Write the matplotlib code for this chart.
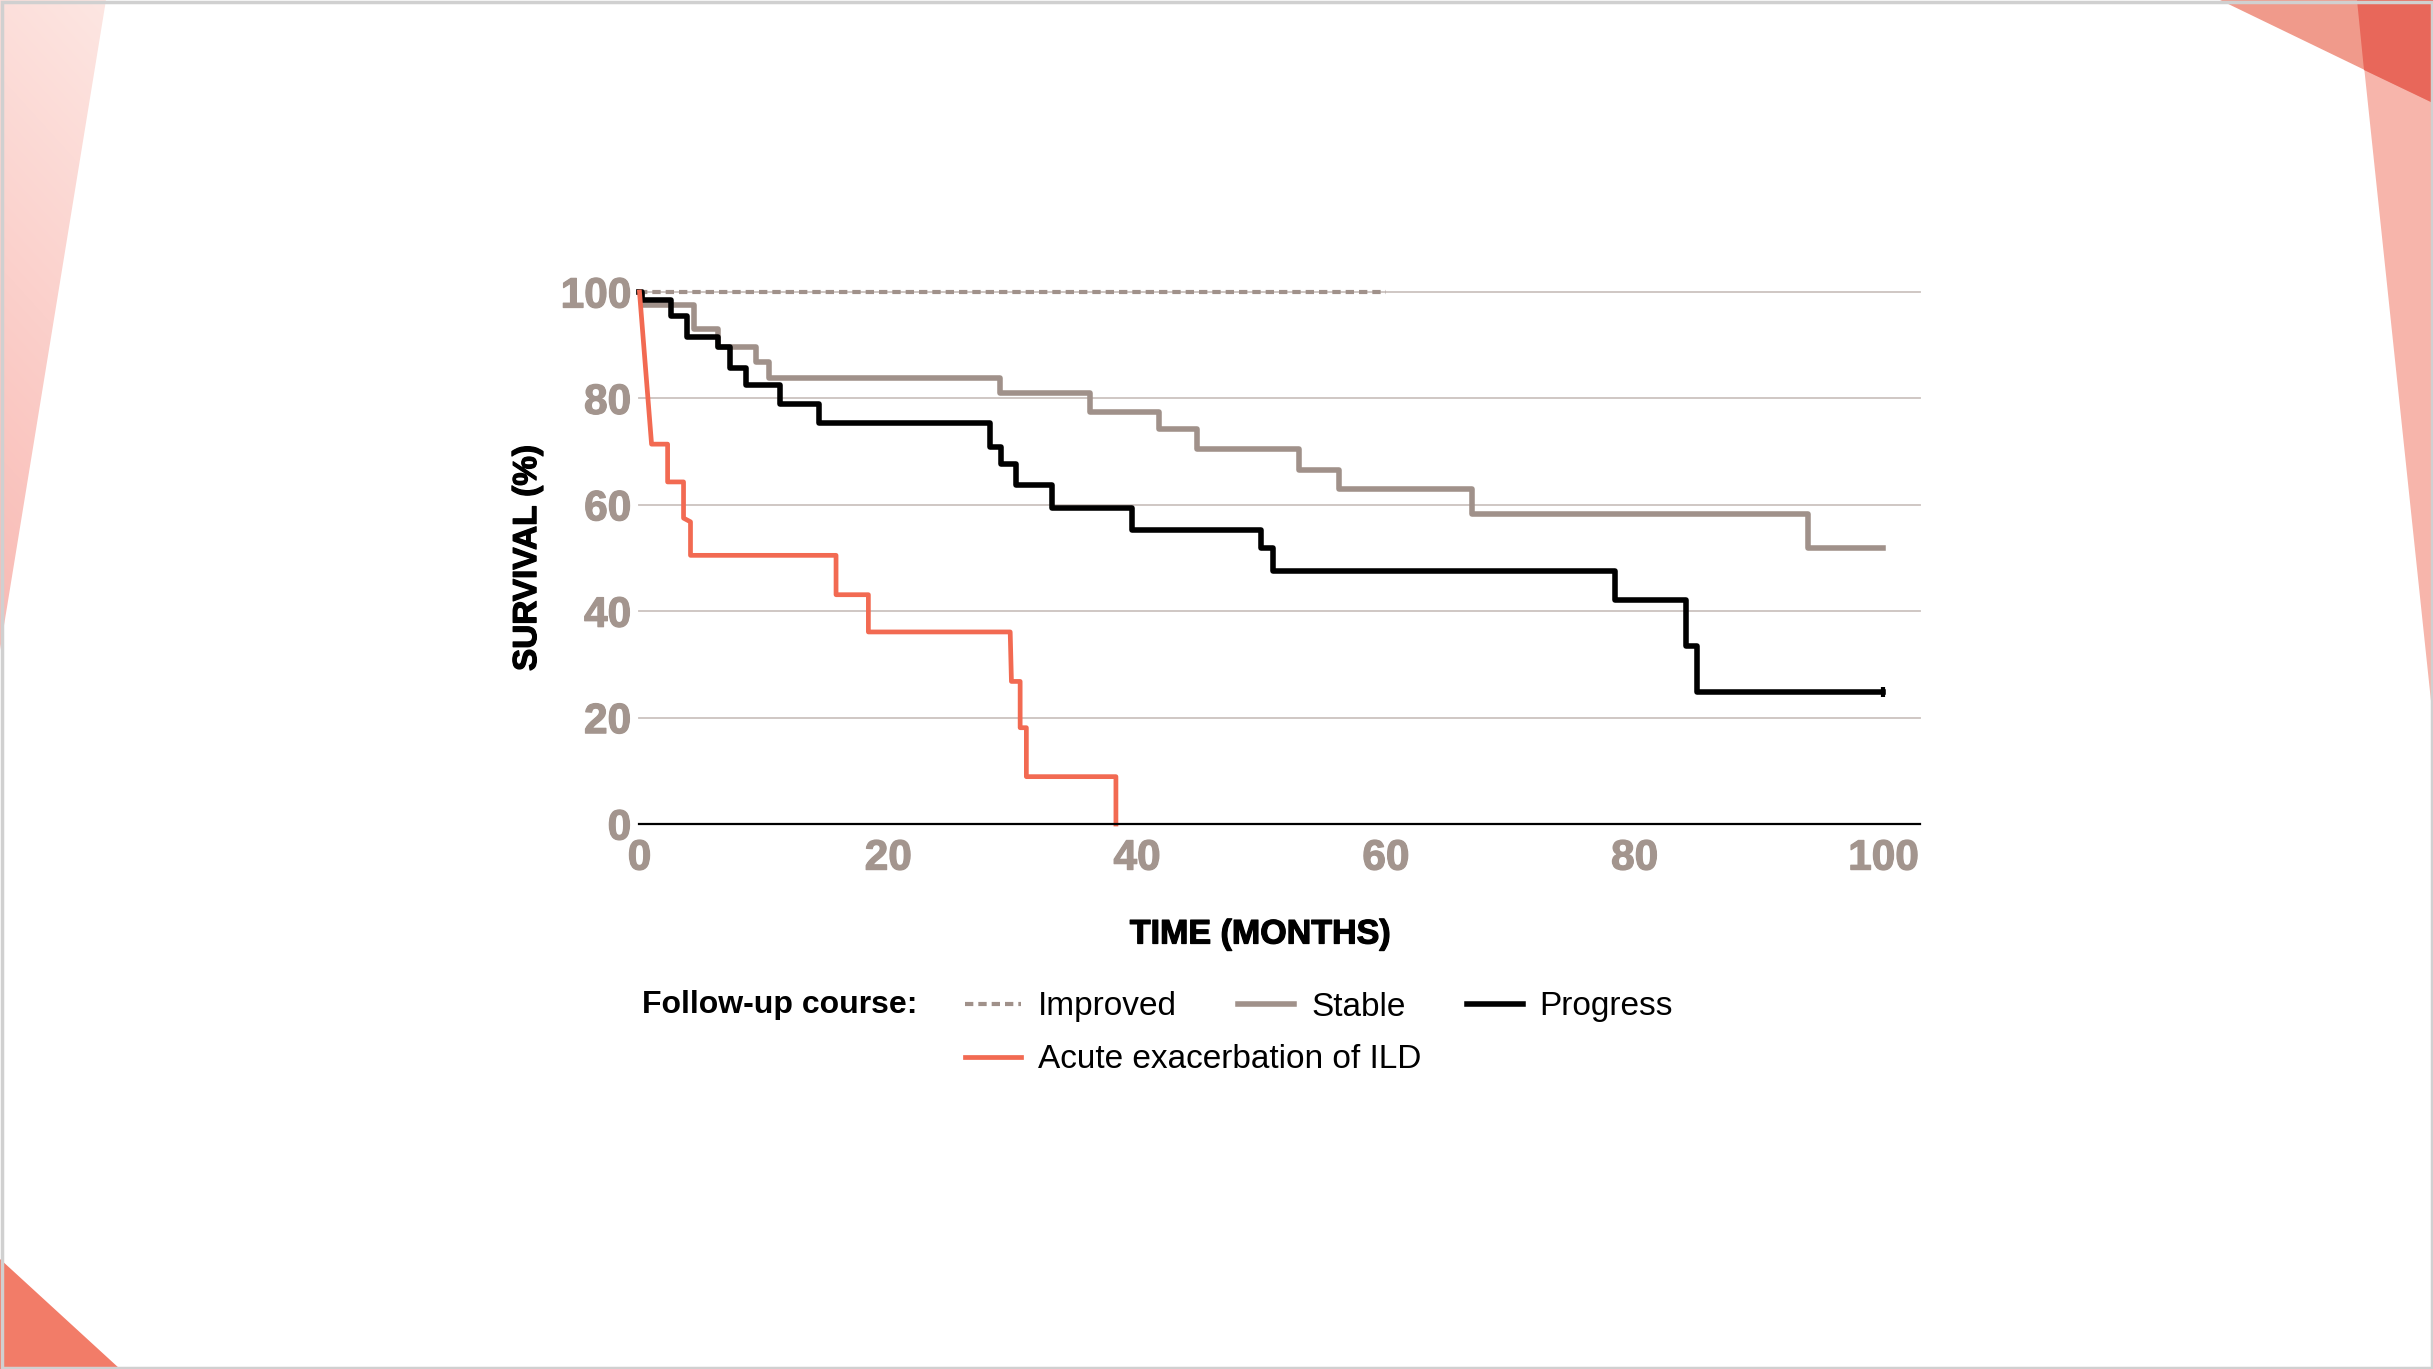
import matplotlib
matplotlib.use("Agg")
import matplotlib.pyplot as plt
from matplotlib.patches import Polygon, Rectangle
import matplotlib.patheffects as pe
import numpy as np

plt.rcParams['font.family'] = ['Liberation Sans', 'DejaVu Sans']

# ---------------- data ----------------
x_ticks = [0, 20, 40, 60, 80, 100]
y_ticks = [0, 20, 40, 60, 80, 100]

improved_time = [0, 60]
improved_surv = [100, 100]

stable_time = [0, 0.2, 4.4, 6.3, 9.4, 10.4, 29.0, 36.2, 41.8, 44.8, 53.0, 56.2, 66.9, 93.9, 100]
stable_surv = [100, 97.6, 93.0, 89.7, 86.9, 83.9, 81.1, 77.4, 74.2, 70.5, 66.5, 62.9, 58.2, 51.9, 51.9]

progress_time = [0, 0.2, 2.5, 3.8, 6.3, 7.3, 8.6, 11.3, 14.4, 28.2, 29.1, 30.3, 33.2, 39.6,
                 50.0, 50.9, 78.4, 84.1, 85.0, 100]
progress_surv = [100, 98.5, 95.5, 91.6, 89.7, 85.8, 82.6, 78.9, 75.4, 70.9, 67.6, 63.7, 59.4, 55.2,
                 51.8, 47.6, 42.1, 33.4, 24.8, 24.8]

# acute exacerbation curve vertices (includes the slanted first drop)
ae_time = [0, 0.97, 2.26, 2.26, 3.54, 3.54, 4.1, 4.1, 15.8, 15.8, 18.4, 18.4, 29.8, 29.9,
           30.6, 30.6, 31.1, 31.1, 38.3, 38.3]
ae_surv = [100, 71.4, 71.4, 64.3, 64.3, 57.5, 56.8, 50.5, 50.5, 43.1, 43.1, 36.1, 36.1, 26.8,
           26.8, 18.1, 18.1, 8.9, 8.9, 0]

labels = ["Improved", "Stable", "Progress", "Acute exacerbation of ILD"]
legend_title = "Follow-up course:"
x_label = "TIME (MONTHS)"
y_label = "SURVIVAL (%)"

# ---------------- styles ----------------
W, H = 2433, 1369
GRAY = "#a0918a"
BLACK = "#000000"
RED = "#f26a52"
TICK_COLOR = "#a3958e"
GRID_COLOR = "#cbc3bf"

fig = plt.figure(figsize=(W / 100, H / 100), dpi=100)
fig.patch.set_facecolor("white")

# ---------------- slide decorations ----------------
bg = fig.add_axes([0, 0, 1, 1], zorder=-10)
bg.set_xlim(0, W)
bg.set_ylim(H, 0)
bg.axis("off")

grad_poly = Polygon([(0, 0), (106, 0), (0, 650)], closed=True, facecolor="none", edgecolor="none")
bg.add_patch(grad_poly)
gy, gx = np.mgrid[0:1:200j, 0:1:40j]
c_top = np.array([253, 230, 226]) / 255.0
c_bot = np.array([249, 186, 180]) / 255.0
t = np.clip(0.85 * gy + 0.15 * (1 - gx), 0, 1)[..., None]
img = c_top * (1 - t) + c_bot * t
im = bg.imshow(img, extent=(0, 106, 650, 0), aspect="auto", interpolation="bilinear", zorder=1)
im.set_clip_path(grad_poly)

bg.add_patch(Polygon([(2357, 0), (W, 0), (W, 720)], closed=True, facecolor="#f7b5ab", edgecolor="none", zorder=1))
bg.add_patch(Polygon([(2220, 0), (W, 0), (W, 103)], closed=True, facecolor="#f09a8b", edgecolor="none", zorder=2))
bg.add_patch(Polygon([(2357, 0), (W, 0), (W, 103), (2364, 70)], closed=True, facecolor="#e8675a", edgecolor="none", zorder=3))
bg.add_patch(Polygon([(0, 1259), (0, H), (120, H)], closed=True, facecolor="#f27c68", edgecolor="none", zorder=2))
bg.add_patch(Rectangle((1.5, 1.5), W - 3, H - 3, facecolor="none", edgecolor="#d0d0d0", linewidth=2.5, zorder=5))

# ---------------- main axes ----------------
x0_px, x1_px = 639.5, 1919.5
y0_px, y100_px = 824.0, 292.0
ax = fig.add_axes([x0_px / W, 1 - y0_px / H, (x1_px - x0_px) / W, (y0_px - y100_px) / H])
ax.set_xlim(0, 102.9)
ax.set_ylim(0, 100)
ax.set_facecolor("none")

for s in ["top", "right", "left"]:
    ax.spines[s].set_visible(False)
ax.spines["bottom"].set_color("black")
ax.spines["bottom"].set_linewidth(1.6)
ax.spines["bottom"].set_zorder(4)

ax.set_yticks(y_ticks)
ax.set_xticks(x_ticks)
ax.yaxis.grid(True, color=GRID_COLOR, linewidth=1.3)
ax.set_axisbelow(True)
for gl in ax.get_ygridlines():
    gl.set_clip_on(False)

ax.tick_params(axis="both", length=0, labelsize=30.5, labelcolor=TICK_COLOR)
ax.tick_params(axis="y", pad=6.0)
ax.tick_params(axis="x", pad=10.5)
heavy_tick = [pe.withStroke(linewidth=0.9, foreground=TICK_COLOR)]
for lbl in ax.get_xticklabels() + ax.get_yticklabels():
    lbl.set_fontweight("bold")
    lbl.set_path_effects(heavy_tick)

l_imp, = ax.plot(improved_time, improved_surv, color=GRAY, linewidth=3.0,
                 linestyle=(0, (2.0, 1.2)), clip_on=False, zorder=3, solid_capstyle="butt")
l_sta, = ax.step(stable_time, stable_surv, where="post", color=GRAY, linewidth=4.0,
                 clip_on=False, zorder=3)
l_pro, = ax.step(progress_time, progress_surv, where="post", color=BLACK, linewidth=4.0,
                 clip_on=False, zorder=3)
l_ae, = ax.plot(ae_time, ae_surv, color=RED, linewidth=3.4, clip_on=False, zorder=3)
# small censor mark at the end of the progress curve
ax.plot([progress_time[-1]], [progress_surv[-1]], marker="|", markersize=7,
        markeredgewidth=3, color=BLACK, clip_on=False, zorder=3)

heavy_black = [pe.withStroke(linewidth=0.9, foreground="black")]
ylab = ax.set_ylabel(y_label, fontsize=24, fontweight="bold", color="black", va="center")
ylab.set_path_effects(heavy_black)
ax.yaxis.set_label_coords((527.6 - x0_px) / (x1_px - x0_px), 0.5)
xlab = ax.set_xlabel(x_label, fontsize=24.5, fontweight="bold", color="black", va="center")
xlab.set_path_effects(heavy_black)
ax.xaxis.set_label_coords((1260 - x0_px) / (x1_px - x0_px), (y0_px - 935) / (y0_px - y100_px))

# ---------------- legend ----------------
fs_leg = 24
fig.text(642 / W, 1 - 1005 / H, legend_title, fontsize=23, fontweight="bold",
         color="black", ha="left", va="center")
leg_kw = dict(loc="center left", bbox_transform=fig.transFigure, frameon=False,
              fontsize=fs_leg, borderpad=0, borderaxespad=0, handlelength=1.68,
              handletextpad=0.5, columnspacing=1.85)
fig.legend([l_imp, l_sta, l_pro], labels[:3], ncol=3,
           bbox_to_anchor=(965 / W, 1 - 1007 / H), **leg_kw)
fig.legend([l_ae], labels[3:], ncol=1,
           bbox_to_anchor=(965 / W, 1 - 1060 / H), **leg_kw)

fig.savefig("out.png", dpi=100)
